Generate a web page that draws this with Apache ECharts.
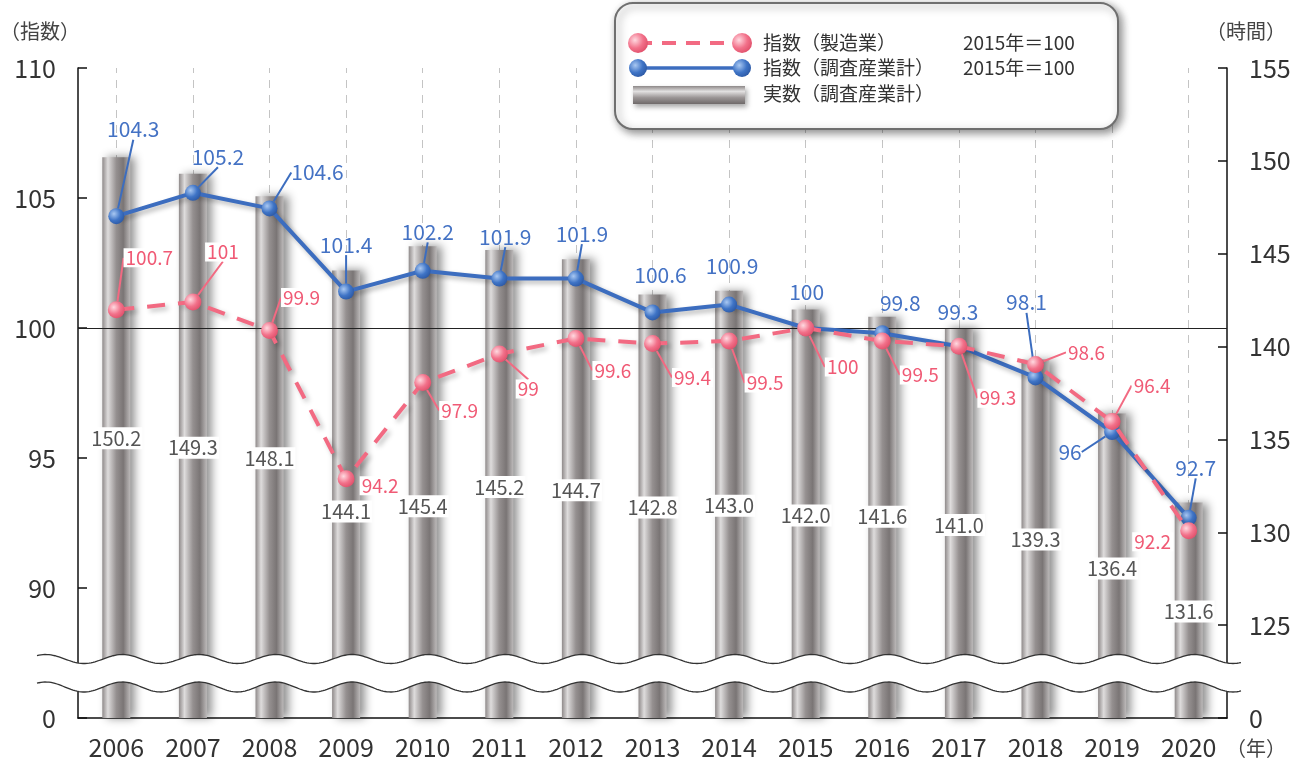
<!DOCTYPE html>
<html>
<head>
<meta charset="utf-8">
<script src="https://cdn.jsdelivr.net/npm/echarts@6/dist/echarts.min.js"></script>
<style>
html,body{margin:0;padding:0;background:#fff}
#main{width:1296px;height:762px}
</style>
</head>
<body>
<div id="main"></div>
<script>
// データ
var years = ['2006','2007','2008','2009','2010','2011','2012','2013','2014','2015','2016','2017','2018','2019','2020'];
var idxMfg = [100.7, 101, 99.9, 94.2, 97.9, 99, 99.6, 99.4, 99.5, 100, 99.5, 99.3, 98.6, 96.4, 92.2];
var idxAll = [104.3, 105.2, 104.6, 101.4, 102.2, 101.9, 101.9, 100.6, 100.9, 100, 99.8, 99.3, 98.1, 96, 92.7];
var hoursAll = [150.2, 149.3, 148.1, 144.1, 145.4, 145.2, 144.7, 142.8, 143.0, 142.0, 141.6, 141.0, 139.3, 136.4, 131.6];

// ラベルの配置（px）
var allDx = [17, 25, 48, 0, 5, 6, 6, 8, 3, 1, 18, -1, -9, -42, 7];
var allDy = [-87, -36, -36, -47, -39, -42, -45, -37, -39, -36, -30, -34, -75, 20, -50];
var allLeader = [1,1,1,1,1,1,1,0,0,0,0,0,1,1,1];
var mfgDx = [33, 30, 32, 34, 37, 29, 37, 40, 36, 37, 38, 39, 51, 40, -36];
var mfgDy = [-52, -50, -33, 7, 28, 35, 32, 34, 42, 39, 34, 52, -12, -36, 11];
var mfgLeader = [1,1,1,0,1,1,1,1,1,1,1,1,1,1,0];
var hourDrop = [281, 274, 262, 241, 260, 237, 231, 213, 215, 206, 200, 197, 180, 155, 109];

var FONT = "'Noto Sans CJK JP', 'Noto Sans', sans-serif";
var BLUE = '#3c6dbf', BLUE_TXT = '#4472c4';
var PINK = '#f26a82', PINK_TXT = '#f05a75';

var myChart = echarts.init(document.getElementById('main'));

function ball(light, mid, dark) {
    return new echarts.graphic.RadialGradient(0.35, 0.35, 0.75, [
        {offset: 0, color: light}, {offset: 0.55, color: mid}, {offset: 1, color: dark}
    ]);
}
var pinkBall = ball('#ffd9e0', '#f2718a', '#dd4b66');
var blueBall = ball('#a9c8f2', '#3f74c6', '#2a55a0');

var barColor = new echarts.graphic.LinearGradient(0, 0, 1, 0, [
    {offset: 0, color: '#8f8a8a'},
    {offset: 0.2, color: '#dedcdc'},
    {offset: 0.5, color: '#959090'},
    {offset: 0.75, color: '#7a7575'},
    {offset: 1, color: '#bdbaba'}
]);

// 波線（省略記号）
var gLeft = 78, gRight = 1227, per = (gRight - gLeft) / years.length, phase = gLeft + per / 2 + 6;
function wave(yc, amp) {
    var pts = [];
    for (var x = 37; x <= 1241; x += 2) {
        pts.push([x, yc - amp * Math.cos(2 * Math.PI * (x - phase) / per)]);
    }
    return pts;
}
var upper = wave(659, 4.5), lower = wave(687, 5);
var band = upper.concat(lower.slice().reverse());

var legendBar = new echarts.graphic.LinearGradient(0, 0, 0, 1, [
    {offset: 0, color: '#8d8888'}, {offset: 0.3, color: '#e2e0e0'},
    {offset: 0.65, color: '#9a9494'}, {offset: 1, color: '#6f6a6a'}
]);

function txt(s, x, y, size, color, align) {
    return {type: 'text', z: 101, style: {text: s, x: x, y: y, font: size + 'px ' + FONT,
        fill: color, align: align || 'left', verticalAlign: 'middle'}};
}

var option = {
    animation: false,
    textStyle: {fontFamily: FONT},
    grid: {left: gLeft, right: 1296 - gRight, top: 68, bottom: 44},
    xAxis: {
        type: 'category',
        data: years,
        axisLine: {lineStyle: {color: '#111', width: 1.5}},
        axisTick: {show: false},
        axisLabel: {fontSize: 25, color: '#333', margin: 17}
    },
    yAxis: [
        {
            type: 'value', min: 85, max: 110, interval: 5,
            axisLine: {show: true, lineStyle: {color: '#111', width: 1.5}},
            axisTick: {show: true, inside: true, length: 9, lineStyle: {color: '#111', width: 1.5}},
            axisLabel: {fontSize: 25, color: '#333', margin: 22,
                formatter: function (v) { return v === 85 ? '0' : v; }},
            splitLine: {show: false}
        },
        {
            type: 'value', min: 120, max: 155, interval: 5,
            axisLine: {show: true, lineStyle: {color: '#111', width: 1.5}},
            axisTick: {show: true, inside: true, length: 9, lineStyle: {color: '#111', width: 1.5}},
            axisLabel: {fontSize: 25, color: '#333', margin: 22,
                formatter: function (v) { return v === 120 ? '0' : v; }},
            splitLine: {show: false}
        }
    ],
    series: [
        {
            name: '実数（調査産業計）',
            type: 'bar',
            yAxisIndex: 1,
            z: 2,
            barWidth: 28,
            data: hoursAll,
            itemStyle: {
                color: barColor,
                shadowColor: 'rgba(0,0,0,0.45)', shadowBlur: 9, shadowOffsetX: 5
            },
            label: {
                show: true, position: 'insideTop', distance: 0, verticalAlign: 'middle',
                fontSize: 20, color: '#555', backgroundColor: '#fff', padding: [1, 1],
                formatter: function (p) { return p.value.toFixed(1); }
            },
            labelLayout: function (p) { return {dy: hourDrop[p.dataIndex]}; },
            markLine: {
                silent: true, symbol: 'none', z: 0,
                label: {show: false},
                lineStyle: {color: '#c4c4c4', width: 1, type: [8, 7]},
                data: years.map(function (y) { return {xAxis: y}; })
            }
        },
        {
            name: '指数（調査産業計）',
            type: 'line',
            yAxisIndex: 0,
            z: 4,
            data: idxAll.map(function (v, i) {
                return {value: v, labelLine: {show: !!allLeader[i]}};
            }),
            symbol: 'circle', symbolSize: 16,
            itemStyle: {color: blueBall},
            lineStyle: {color: BLUE, width: 4,
                shadowColor: 'rgba(0,0,0,0.3)', shadowBlur: 5, shadowOffsetX: 3, shadowOffsetY: 3},
            label: {show: true, position: 'inside', fontSize: 21, color: BLUE_TXT},
            labelLine: {show: true, lineStyle: {color: BLUE, width: 2}},
            labelLayout: function (p) { return {dx: allDx[p.dataIndex], dy: allDy[p.dataIndex]}; }
        },
        {
            name: '指数（製造業）',
            type: 'line',
            yAxisIndex: 0,
            z: 5,
            data: idxMfg.map(function (v, i) {
                return {value: v, labelLine: {show: !!mfgLeader[i]}};
            }),
            symbol: 'circle', symbolSize: 17,
            itemStyle: {color: pinkBall},
            lineStyle: {color: PINK, width: 4, type: [18, 13],
                shadowColor: 'rgba(0,0,0,0.25)', shadowBlur: 5, shadowOffsetX: 3, shadowOffsetY: 3},
            label: {show: true, position: 'inside', fontSize: 19, color: PINK_TXT,
                backgroundColor: '#fff', padding: [0, 2]},
            labelLine: {show: true, lineStyle: {color: PINK, width: 2}},
            labelLayout: function (p) { return {dx: mfgDx[p.dataIndex], dy: mfgDy[p.dataIndex]}; },
            markLine: {
                silent: true, symbol: 'none', z: 3,
                label: {show: false},
                lineStyle: {color: '#222', width: 1.2, type: 'solid'},
                data: [{yAxis: 100}]
            }
        }
    ],
    graphic: [
        {type: 'polygon', z: 100, shape: {points: band}, style: {fill: '#fff'}},
        {type: 'polyline', z: 101, shape: {points: upper}, style: {stroke: '#333', lineWidth: 1.3, fill: null}},
        {type: 'polyline', z: 101, shape: {points: lower}, style: {stroke: '#333', lineWidth: 1.3, fill: null}},
        txt('（指数）', 0, 31, 20, '#444'),
        txt('（時間）', 1206, 31, 20, '#444'),
        txt('（年）', 1226, 748, 20, '#444'),
        // 凡例
        {type: 'rect', z: 100, shape: {x: 615, y: 3, width: 503, height: 126, r: 18},
            style: {fill: '#fff', stroke: '#6f6f6f', lineWidth: 2,
                shadowColor: 'rgba(0,0,0,0.45)', shadowBlur: 8, shadowOffsetX: 3, shadowOffsetY: 3}},
        {type: 'line', z: 101, shape: {x1: 638, y1: 43, x2: 742, y2: 43},
            style: {stroke: PINK, lineWidth: 4, lineDash: [14, 10]}},
        {type: 'circle', z: 102, shape: {cx: 638, cy: 43, r: 10}, style: {fill: pinkBall}},
        {type: 'circle', z: 102, shape: {cx: 742, cy: 43, r: 10}, style: {fill: pinkBall}},
        {type: 'line', z: 101, shape: {x1: 638, y1: 68, x2: 742, y2: 68},
            style: {stroke: BLUE, lineWidth: 3.5}},
        {type: 'circle', z: 102, shape: {cx: 638, cy: 68, r: 9}, style: {fill: blueBall}},
        {type: 'circle', z: 102, shape: {cx: 742, cy: 68, r: 9}, style: {fill: blueBall}},
        {type: 'rect', z: 101, shape: {x: 633, y: 86, width: 112, height: 18},
            style: {fill: legendBar, shadowColor: 'rgba(0,0,0,0.35)', shadowBlur: 5, shadowOffsetX: 2, shadowOffsetY: 3}},
        txt('指数（製造業）', 763, 43, 19, '#333'),
        txt('2015年＝100', 963, 43, 19, '#333'),
        txt('指数（調査産業計）', 763, 68, 19, '#333'),
        txt('2015年＝100', 963, 68, 19, '#333'),
        txt('実数（調査産業計）', 763, 94, 19, '#333')
    ]
};

myChart.setOption(option);
</script>
</body>
</html>
